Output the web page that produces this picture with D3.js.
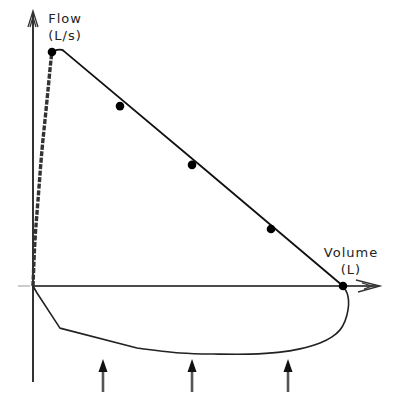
<!DOCTYPE html>
<html><head><meta charset="utf-8">
<script src="https://cdn.jsdelivr.net/npm/d3@7"></script>
<style>html,body{margin:0;padding:0;background:#fff;}svg{display:block;}</style>
</head><body>
<script>
// Expiratory rising limb (volume L, flow L/s)
const riseVol  = [0, 0.032, 0.081, 0.145, 0.194, 0.242, 0.290, 0.306];
const riseFlow = [0, 1.57, 2.94, 4.65, 5.68, 6.70, 7.73, 8.0];
// Expiratory falling limb
const fallVol  = [0.306, 0.387, 0.468, 0.532, 5.0];
const fallFlow = [8.0, 8.07, 8.07, 7.97, 0];
// Measured points
const dotVol  = [0.306, 1.403, 2.565, 3.839, 5.0];
const dotFlow = [8.0, 6.15, 4.14, 1.95, 0];
// Inspiratory loop: straight initial part, then smooth part
const inspVolA  = [0, 0.065, 0.435, 1.677];
const inspFlowA = [0, -0.24, -1.44, -2.12];
const inspVolB  = [1.677, 2.371, 3.0, 3.5, 3.952, 4.306, 4.629, 4.823, 4.952, 5.032, 5.081, 5.089, 5.065, 5.0];
const inspFlowB = [-2.12, -2.29, -2.33, -2.33, -2.27, -2.15, -1.95, -1.74, -1.50, -1.20, -0.82, -0.48, -0.24, 0];
// Arrows under the loop (volume)
const arrowVol = [1.129, 2.565, 4.113];
// Labels
const yLabel = ["Flow", "(L/s)"];
const xLabel = ["Volume", "(L)"];

const W = 403, H = 414;
const svg = d3.select("body").append("svg").attr("width", W).attr("height", H);
const x = d3.scaleLinear().domain([0, 5]).range([33, 343]);
const y = d3.scaleLinear().domain([0, 8]).range([286, 52]);

const zip = (a, b) => a.map((v, i) => [v, b[i]]);

// light tick left of origin
svg.append("line").attr("x1", 18).attr("x2", 30).attr("y1", y(0)).attr("y2", y(0))
  .attr("stroke", "#bbb").attr("stroke-width", 1.5);

// vertical axis
svg.append("line").attr("x1", x(0)).attr("x2", x(0)).attr("y1", 13).attr("y2", 382)
  .attr("stroke", "#333").attr("stroke-width", 2);
svg.append("path").attr("d", `M${x(0)-5},27 L${x(0)},11 L${x(0)+5},27 M${x(0)-3},27 L${x(0)},17 L${x(0)+3},27`)
  .attr("fill", "none").attr("stroke", "#333").attr("stroke-width", 1.3);

// horizontal axis
svg.append("line").attr("x1", x(0)).attr("x2", 379).attr("y1", y(0)).attr("y2", y(0))
  .attr("stroke", "#111").attr("stroke-width", 1.6);
svg.append("path").attr("d", `M356,280 L380,${y(0)} L358,292 M362,283 L372,${y(0)} L364,289`)
  .attr("fill", "none").attr("stroke", "#333").attr("stroke-width", 1.3);

// inspiratory loop
const lineA = d3.line().x(d => x(d[0])).y(d => y(d[1]));
const lineB = d3.line().x(d => x(d[0])).y(d => y(d[1])).curve(d3.curveCatmullRom.alpha(0.5));
const dA = lineA(zip(inspVolA, inspFlowA));
const dB = lineB(zip(inspVolB, inspFlowB)).replace(/^M/, "L");
svg.append("path").attr("d", dA + dB)
  .attr("fill", "none").attr("stroke", "#222").attr("stroke-width", 1.6).attr("stroke-linejoin", "round");

// rising limb (dashed thick)
svg.append("path").datum(zip(riseVol, riseFlow))
  .attr("d", d3.line().x(d => x(d[0])).y(d => y(d[1])).curve(d3.curveCatmullRom))
  .attr("fill", "none").attr("stroke", "#333").attr("stroke-width", 3.4)
  .attr("stroke-dasharray", "5,1.5");

// falling limb
svg.append("path").datum(zip(fallVol, fallFlow))
  .attr("d", d3.line().x(d => x(d[0])).y(d => y(d[1])).curve(d3.curveCatmullRom))
  .attr("fill", "none").attr("stroke", "#111").attr("stroke-width", 1.8);

// dots
svg.selectAll("circle.pt").data(zip(dotVol, dotFlow)).enter().append("circle")
  .attr("class", "pt").attr("cx", d => x(d[0])).attr("cy", d => y(d[1])).attr("r", 4.3)
  .attr("fill", "#000");

// arrows
const ag = svg.selectAll("g.arr").data(arrowVol).enter().append("g").attr("class", "arr");
ag.append("line").attr("x1", d => x(d)).attr("x2", d => x(d)).attr("y1", 370).attr("y2", 392)
  .attr("stroke", "#555").attr("stroke-width", 2.6);
ag.append("path").attr("d", d => `M${x(d)},359 L${x(d)+4.5},372 L${x(d)-4.5},372 Z`).attr("fill", "#111");

// labels
const font = "'DejaVu Sans', Verdana, sans-serif";
svg.append("g").selectAll("text").data(yLabel).enter().append("text")
  .attr("x", 65).attr("y", (d, i) => 23 + i * 17).attr("text-anchor", "middle")
  .attr("font-family", font).attr("font-size", 13).attr("letter-spacing", 1)
  .attr("fill", "#222").text(d => d);
svg.append("g").selectAll("text").data(xLabel).enter().append("text")
  .attr("x", 351).attr("y", (d, i) => 257 + i * 17).attr("text-anchor", "middle")
  .attr("font-family", font).attr("font-size", 13).attr("letter-spacing", 1)
  .attr("fill", "#222").text(d => d);
</script>
</body></html>
